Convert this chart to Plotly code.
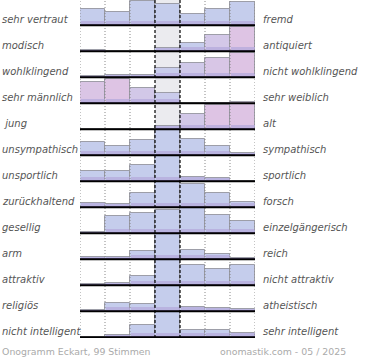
import plotly.graph_objects as go

left_labels = ["sehr vertraut", "modisch", "wohlklingend", "sehr männlich", " jung",
               "unsympathisch", "unsportlich", "zurückhaltend", "gesellig", "arm",
               "attraktiv", "religiös", "nicht intelligent"]
right_labels = ["fremd", "antiquiert", "nicht wohlklingend", "sehr weiblich", "alt",
                "sympathisch", "sportlich", "forsch", "einzelgängerisch", "reich",
                "nicht attraktiv", "atheistisch", "sehr intelligent"]

# bar heights per row, in percent of the row height, 7 columns each
row_values = [
    [64, 52, 93, 81, 43, 64, 90],
    [4, 0, 0, 12, 33, 63, 95],
    [5, 10, 8, 37, 56, 75, 94],
    [81, 95, 60, 41, 0, 0, 0],
    [0, 0, 0, 13, 60, 95, 106],
    [50, 35, 58, 98, 62, 35, 7],
    [38, 38, 64, 98, 18, 13, 0],
    [18, 14, 56, 98, 90, 56, 22],
    [5, 67, 78, 88, 97, 69, 48],
    [8, 8, 31, 97, 35, 19, 6],
    [4, 9, 37, 96, 78, 63, 80],
    [5, 31, 30, 96, 18, 13, 9],
    [0, 9, 49, 96, 28, 28, 15],
]
footer_left = "Onogramm Eckart, 99 Stimmen"
footer_right = "onomastik.com - 05 / 2025"

pink_rows = {1, 2, 3, 4}
n_rows = len(row_values)
n_cols = 7
BLUE = (197, 205, 236)
PINK = (222, 196, 228)

W, H = 370, 360
ML, MR, MT, MB = 80, 115, 0, 22
PW = W - ML - MR
PH = H - MT - MB


def blend(c1, c2, t):
    t = max(0.0, min(1.0, t))
    return "rgb(%d,%d,%d)" % tuple(round(a + (b - a) * t) for a, b in zip(c1, c2))


fig = go.Figure()
xs = [c + 0.5 for c in range(n_cols)]
for i, vals in enumerate(row_values):
    base = n_rows - 1 - i
    h = [v / 100 for v in vals]
    if i in pink_rows:
        cols = [blend(BLUE, PINK, (v - 30) / 60) for v in vals]
    else:
        cols = ["rgb(%d,%d,%d)" % BLUE] * n_cols
    fig.add_trace(go.Bar(x=xs, y=h, base=[base] * n_cols, width=1,
                         marker=dict(color=cols, line=dict(color="rgba(150,150,160,0.9)", width=1)),
                         hoverinfo="skip", showlegend=False))
    fig.add_trace(go.Bar(x=xs, y=[min(v, 0.16) for v in h], base=[base] * n_cols, width=0.96,
                         marker=dict(color="rgba(180,170,220,0.75)", line=dict(width=0)),
                         hoverinfo="skip", showlegend=False))
    fig.add_trace(go.Bar(x=xs, y=[min(v, 0.06) for v in h], base=[base] * n_cols, width=0.96,
                         marker=dict(color="rgba(150,130,200,0.8)", line=dict(width=0)),
                         hoverinfo="skip", showlegend=False))

y0, y1 = -0.027, n_rows - 0.027
shapes = [dict(type="rect", xref="x", yref="y", x0=3, x1=4, y0=y0, y1=y1,
               fillcolor="#ebebef", line=dict(width=0), layer="below")]
for c in [0, 1, 2, 5, 6, 7]:
    shapes.append(dict(type="line", xref="x", yref="y", x0=c, x1=c, y0=y0, y1=y1,
                       line=dict(color="#888888", width=1, dash="1px,2px"), layer="above"))
for c in [3, 4]:
    shapes.append(dict(type="line", xref="x", yref="y", x0=c, x1=c, y0=y0, y1=y1,
                       line=dict(color="#000000", width=1.2, dash="3px,2px"), layer="above"))
for i in range(n_rows):
    b = n_rows - 1 - i
    shapes.append(dict(type="line", xref="x", yref="y", x0=0, x1=n_cols, y0=b, y1=b,
                       line=dict(color="#000000", width=2), layer="above"))


def px_to_paper_x(px):
    return (px - ML) / PW


def px_to_paper_y(py):
    return (H - MB - py) / PH


annotations = []
font_lab = dict(family="DejaVu Sans", size=10, color="#555555")
for i in range(n_rows):
    yb = (n_rows - 1 - i + 0.23 - y0) / (y1 - y0)
    ltxt = left_labels[i]
    if ltxt.startswith(" "):
        ltxt = "\u00a0" + ltxt[1:]
    annotations.append(dict(text="<i>%s</i>" % ltxt, x=px_to_paper_x(0), y=yb,
                            xref="paper", yref="paper",
                            xanchor="left", yanchor="middle", showarrow=False, font=font_lab))
    annotations.append(dict(text="<i>%s</i>" % right_labels[i], x=px_to_paper_x(261), y=yb,
                            xref="paper", yref="paper",
                            xanchor="left", yanchor="middle", showarrow=False, font=font_lab))
font_foot = dict(family="DejaVu Sans", size=9.4, color="#aaaaaa")
annotations.append(dict(text=footer_left, x=px_to_paper_x(0), y=px_to_paper_y(351),
                        xref="paper", yref="paper",
                        xanchor="left", yanchor="middle", showarrow=False, font=font_foot))
annotations.append(dict(text=footer_right, x=px_to_paper_x(348), y=px_to_paper_y(351),
                        xref="paper", yref="paper",
                        xanchor="right", yanchor="middle", showarrow=False, font=font_foot))

fig.update_layout(
    width=W, height=H,
    margin=dict(l=ML, r=MR, t=MT, b=MB),
    paper_bgcolor="white", plot_bgcolor="white",
    barmode="overlay", bargap=0,
    xaxis=dict(range=[0, n_cols], visible=False, fixedrange=True),
    yaxis=dict(range=[y0, y1], visible=False, fixedrange=True),
    shapes=shapes, annotations=annotations,
    showlegend=False,
)
fig.write_html("out.html", config={"displayModeBar": False},
               post_script="document.body.style.margin='0';document.body.style.overflow='hidden';")
